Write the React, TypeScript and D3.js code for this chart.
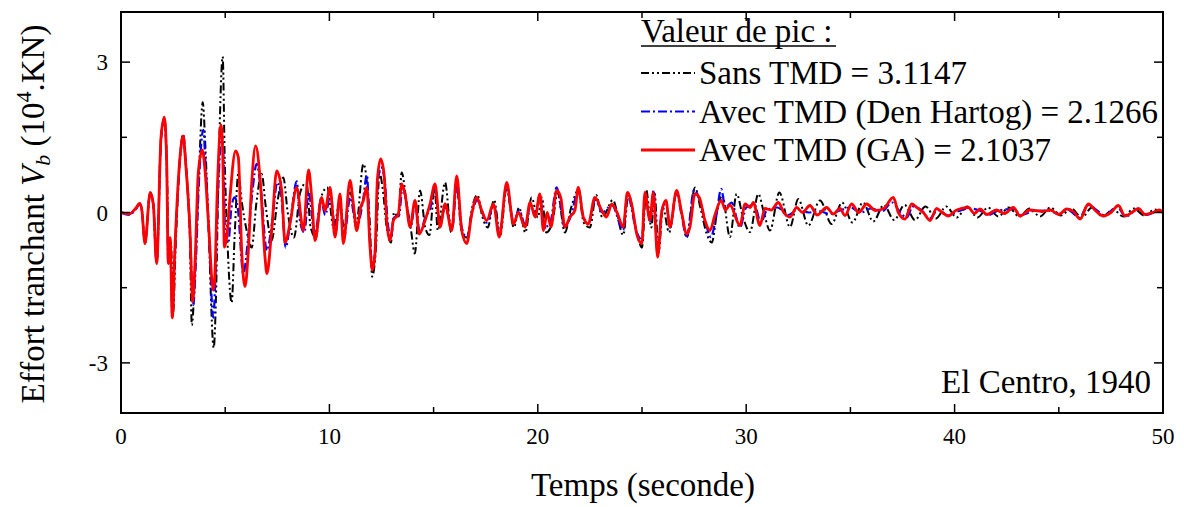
import React from 'react';
import * as d3 from 'd3';

// Temps (s), effort tranchant (10^4 kN) — extrema
const sansTmd: [number, number][] = [
  [0, 0], [0.4, -0.03], [0.7, 0.08], [0.9, 0.18], [1.0, 0.05], [1.15, -0.62], [1.4, 0.4], [1.55, 0.17],
  [1.71, -1.02], [1.92, 1.5], [2.08, 1.85], [2.2, 1.0], [2.28, -1.0], [2.4, -0.6], [2.5, -2.0], [2.62, -0.7],
  [2.85, 1.2], [2.97, 1.55], [3.1, 1.0], [3.3, -0.4], [3.4, -2.25], [3.55, -1.2], [3.75, 0.9], [3.92, 2.2],
  [4.05, 1.3], [4.2, -0.3], [4.45, -2.7], [4.55, -1.8], [4.68, 0.8], [4.88, 3.11], [4.98, 1.0], [5.1, -0.5],
  [5.31, -1.8], [5.45, -0.5], [5.63, 0.77], [5.8, 0.2], [6.0, -0.3], [6.27, -0.7], [6.5, 0.2], [6.75, 0.77],
  [6.95, 0.1], [7.23, -0.56], [7.5, 0.2], [7.79, 0.7], [8.0, 0.0], [8.3, -0.5], [8.6, 0.4], [8.9, 0.6],
  [9.1, -0.3], [9.35, -0.5], [9.6, 0.3], [9.9, 0.5], [10.2, -0.3], [10.5, 0.2], [10.7, -0.3], [11.0, 0.4],
  [11.3, -0.2], [11.63, 0.97], [11.8, 0.6], [11.95, -0.3], [12.05, -1.28], [12.25, -0.6], [12.4, 0.8], [12.55, 0.5],
  [12.75, -0.3], [12.95, -0.6], [13.1, 0.0], [13.3, -0.1], [13.47, 0.8], [13.7, 0.2], [13.9, -0.3], [14.1, -0.82],
  [14.35, 0.44], [14.6, -0.3], [14.8, -0.45], [15.05, 0.5], [15.2, -0.36], [15.55, 0.6], [15.85, -0.4], [16.1, 0.55],
  [16.35, -0.4], [16.6, -0.5], [16.85, 0.1], [17.1, 0.35], [17.35, -0.1], [17.6, -0.3], [17.9, 0.25], [18.2, -0.45],
  [18.5, 0.5], [18.85, -0.3], [19.1, 0.1], [19.4, -0.4], [19.7, 0.3], [20.0, -0.1], [20.2, 0.3], [20.4, -0.4],
  [20.7, -0.2], [20.95, 0.4], [21.3, -0.4], [21.6, 0.1], [21.95, 0.45], [22.2, -0.2], [22.5, -0.3], [22.8, 0.35],
  [23.1, -0.1], [23.6, 0.25], [24.1, -0.45], [24.35, 0.35], [24.8, -0.5], [25.0, -0.7], [25.2, 0.45], [25.45, -0.3],
  [25.6, 0.4], [25.8, -0.8], [26.0, 0.1], [26.3, -0.4], [26.65, 0.4], [26.95, -0.1], [27.15, -0.5], [27.54, 0.5],
  [27.8, 0.1], [28.1, -0.42], [28.35, -0.6], [28.6, 0.0], [28.85, 0.35], [29.22, -0.49], [29.54, 0.37], [29.85, -0.1],
  [30.18, -0.39], [30.58, 0.37], [30.85, 0.0], [31.14, -0.36], [31.59, 0.4], [32.1, -0.29], [32.5, 0.27], [32.98, -0.26],
  [33.54, 0.24], [34.1, -0.23], [34.6, 0.2], [35.1, -0.2], [35.6, 0.2], [36.1, -0.18], [36.6, 0.15], [37.1, -0.15],
  [37.6, 0.15], [38.1, -0.15], [38.6, 0.12], [39.1, -0.12], [39.6, 0.12], [40.1, -0.1], [40.6, 0.12], [41.1, -0.1],
  [41.6, 0.1], [42.1, -0.08], [42.6, 0.1], [43.1, -0.08], [43.6, 0.08], [44.1, -0.08], [44.6, 0.1], [45.1, -0.06],
  [45.6, 0.08], [46.1, -0.1], [46.6, 0.1], [47.1, -0.08], [47.6, 0.06], [48.1, -0.08], [48.6, 0.08], [49.1, -0.06],
  [49.6, 0.06], [50, 0.0],
];

const denHartog: [number, number][] = [
  [0, 0], [0.4, -0.05], [0.7, 0.06], [0.9, 0.16], [1.0, 0.04], [1.15, -0.6], [1.4, 0.38], [1.55, 0.15],
  [1.71, -1.0], [1.92, 1.45], [2.08, 1.85], [2.19, 1.0], [2.27, -1.0], [2.36, -0.55], [2.46, -2.05], [2.59, -0.75],
  [2.83, 1.05], [2.99, 1.55], [3.1, 1.05], [3.31, -0.4], [3.47, -1.85], [3.58, -1.1], [3.75, 0.7], [3.95, 1.65],
  [4.05, 1.0], [4.2, -0.2], [4.43, -2.1], [4.52, -1.4], [4.65, 0.3], [4.83, 1.55], [4.92, 1.1], [5.0, -0.5],
  [5.15, -0.6], [5.3, 0.1], [5.45, 0.3], [5.6, 0.1], [5.87, -1.22], [6.1, -0.5], [6.3, 0.4], [6.51, 0.97],
  [6.7, 0.5], [7.0, -0.76], [7.25, -0.2], [7.5, 0.6], [7.7, 0.3], [7.9, -0.7], [8.15, -0.1], [8.43, 0.62],
  [8.6, -0.2], [8.8, -0.4], [9.0, 0.4], [9.3, -0.45], [9.6, 0.25], [9.8, -0.05], [10.05, 0.35], [10.3, -0.4],
  [10.5, 0.25], [10.7, -0.5], [11.0, 0.3], [11.3, -0.3], [11.6, 0.2], [11.8, 0.75], [11.95, -0.6], [12.08, -1.05],
  [12.2, -0.7], [12.32, 0.6], [12.48, 0.9], [12.65, 0.65], [12.8, -0.2], [12.95, -0.5], [13.1, -0.1], [13.35, -0.05],
  [13.5, 0.5], [13.65, 0.3], [13.9, -0.3], [14.1, 0.15], [14.35, -0.4], [14.6, -0.1], [14.85, 0.1], [15.07, 0.5],
  [15.3, -0.25], [15.55, 0.1], [15.9, -0.3], [16.12, 0.6], [16.35, -0.3], [16.6, -0.5], [16.85, 0.0], [17.1, 0.25],
  [17.3, 0.05], [17.55, -0.2], [17.9, 0.15], [18.15, -0.45], [18.5, 0.5], [18.85, -0.2], [19.1, 0.05], [19.4, -0.25],
  [19.65, 0.15], [19.9, -0.05], [20.1, 0.35], [20.3, -0.3], [20.6, -0.2], [20.9, 0.5], [21.3, -0.3], [21.6, -0.05],
  [21.95, 0.45], [22.2, -0.1], [22.45, -0.2], [22.75, 0.25], [23.1, 0.0], [23.55, 0.15], [24.1, -0.35], [24.3, 0.35],
  [24.75, -0.4], [25.0, -0.55], [25.15, 0.35], [25.4, -0.2], [25.55, 0.45], [25.75, -0.8], [25.95, 0.05], [26.15, 0.2],
  [26.35, -0.3], [26.65, 0.4], [26.9, -0.05], [27.14, -0.5], [27.5, 0.45], [27.8, 0.2], [28.05, -0.2], [28.3, -0.49],
  [28.55, -0.1], [28.8, 0.47], [29.0, 0.1], [29.3, 0.2], [29.7, -0.3], [30.0, 0.1], [30.4, 0.15], [30.7, -0.2],
  [31.0, 0.05], [31.5, 0.1], [32.0, -0.05], [32.5, 0.06], [33.0, 0.0], [33.5, 0.03], [34.0, -0.03], [34.5, 0.04],
  [35.0, 0.1], [35.5, 0.0], [36.0, 0.08], [36.5, 0.02], [37.0, 0.2], [37.4, 0.0], [37.7, -0.1], [38.0, 0.12],
  [38.4, 0.05], [38.8, -0.12], [39.2, 0.05], [39.7, -0.06], [40.2, 0.03], [40.7, 0.08], [41.2, 0.04], [41.6, -0.05],
  [42.1, 0.04], [42.8, 0.07], [43.2, -0.05], [43.8, 0.03], [44.5, 0.04], [45.0, -0.03], [45.4, 0.06], [46.0, -0.1],
  [46.4, 0.15], [46.9, 0.02], [47.2, -0.06], [47.8, 0.12], [48.2, -0.08], [48.8, 0.07], [49.2, -0.05], [49.8, 0.03],
  [50, 0],
];

const gaTmd: [number, number][] = [
  [0, 0], [0.4, -0.03], [0.7, 0.08], [0.9, 0.18], [1.0, 0.05], [1.15, -0.62], [1.4, 0.4], [1.55, 0.17],
  [1.71, -1.02], [1.92, 1.5], [2.08, 1.9], [2.19, 1.03], [2.27, -1.02], [2.36, -0.5], [2.46, -2.1], [2.59, -0.69],
  [2.83, 1.1], [2.99, 1.53], [3.1, 1.0], [3.31, -0.36], [3.44, -1.78], [3.55, -1.02], [3.71, 0.8], [3.9, 1.25],
  [4.03, 0.85], [4.19, -0.16], [4.43, -1.55], [4.5, -1.3], [4.62, 0.44], [4.8, 1.75], [4.88, 1.2], [4.96, -0.69],
  [5.1, -0.4], [5.23, 0.3], [5.5, 1.23], [5.63, 1.1], [5.79, -0.76], [5.95, -1.48], [6.11, -0.76], [6.27, 0.57],
  [6.46, 1.33], [6.67, 0.7], [6.91, -0.89], [7.0, -1.22], [7.23, -0.36], [7.47, 0.83], [7.71, 0.44], [7.87, -0.6],
  [8.11, -0.22], [8.43, 0.5], [8.75, -0.36], [9.0, 0.85], [9.15, 0.3], [9.31, -0.56], [9.63, 0.3], [9.79, 0.04],
  [10.03, 0.5], [10.27, -0.49], [10.51, 0.37], [10.67, -0.62], [10.99, 0.64], [11.15, 0.17], [11.31, -0.36], [11.5, 0.1],
  [11.63, 0.24], [11.79, 0.5], [11.95, -0.69], [12.06, -1.15], [12.19, -0.8], [12.3, 0.64], [12.46, 1.07], [12.62, 0.77],
  [12.75, -0.16], [12.91, -0.56], [13.07, -0.16], [13.31, -0.03], [13.47, 0.57], [13.63, 0.37], [13.87, -0.29], [14.11, 0.24],
  [14.31, -0.43], [14.59, -0.16], [14.83, 0.17], [15.07, 0.57], [15.31, -0.29], [15.55, 0.17], [15.87, -0.36], [16.11, 0.73],
  [16.35, -0.36], [16.59, -0.62], [16.83, -0.03], [17.07, 0.3], [17.31, 0.04], [17.55, -0.16], [17.87, 0.17], [18.15, -0.49],
  [18.51, 0.6], [18.83, -0.23], [19.07, 0.0], [19.39, -0.29], [19.63, 0.2], [19.87, -0.09], [20.1, 0.37], [20.27, -0.36],
  [20.45, 0.0], [20.63, -0.29], [20.9, 0.44], [21.1, 0.3], [21.3, -0.29], [21.54, -0.09], [21.78, 0.04], [21.94, 0.5],
  [22.18, -0.09], [22.42, -0.23], [22.74, 0.3], [23.07, 0.04], [23.3, -0.09], [23.55, 0.17], [23.8, 0.0], [24.1, -0.29],
  [24.3, 0.4], [24.5, 0.17], [24.75, -0.43], [24.99, -0.62], [25.14, 0.4], [25.38, -0.16], [25.54, 0.4], [25.75, -0.89],
  [25.94, 0.0], [26.15, 0.24], [26.34, -0.29], [26.66, 0.44], [26.9, 0.0], [27.14, -0.43], [27.3, -0.29], [27.54, 0.37],
  [27.75, 0.3], [28.02, -0.16], [28.26, -0.36], [28.5, -0.05], [28.8, 0.24], [29.0, 0.05], [29.22, 0.15], [29.7, -0.26],
  [29.95, 0.17], [30.2, 0.1], [30.34, 0.2], [30.66, -0.26], [30.9, 0.08], [31.2, 0.05], [31.54, 0.2], [31.8, 0.0],
  [32.1, -0.09], [32.42, 0.1], [32.7, 0.0], [33.06, 0.14], [33.4, -0.05], [33.86, 0.1], [34.18, -0.03], [34.5, 0.08],
  [34.74, -0.06], [35.06, 0.17], [35.4, 0.0], [35.78, 0.17], [36.2, 0.04], [36.6, 0.08], [37.06, 0.3], [37.3, 0.0],
  [37.62, -0.13], [37.94, 0.17], [38.18, 0.1], [38.5, 0.0], [38.82, -0.16], [39.14, 0.08], [39.4, 0.0], [39.7, -0.07],
  [40.1, 0.05], [40.66, 0.1], [40.95, -0.02], [41.22, 0.07], [41.55, -0.04], [42.0, 0.05], [42.4, -0.02], [42.82, 0.1],
  [43.14, -0.07], [43.6, 0.05], [44.2, 0.02], [44.6, 0.05], [45.0, -0.04], [45.38, 0.07], [45.7, 0.02], [46.02, -0.13],
  [46.42, 0.17], [46.8, 0.02], [47.14, -0.07], [47.5, 0.0], [47.86, 0.14], [48.18, -0.07], [48.5, 0.0], [48.82, 0.08],
  [49.14, -0.04], [49.5, 0.0], [49.82, 0.05], [50, 0.0],
];

const xTicks = [0, 10, 20, 30, 40, 50];
const xMinorTicks = [5, 15, 25, 35, 45];
const yTicks = [-3, 0, 3];
const yMinorTicks = [-1.5, 1.5];
const legendLabels = ['Sans TMD = 3.1147', 'Avec TMD (Den Hartog) = 2.1266', 'Avec TMD (GA) = 2.1037'];

const W = 1184;
const H = 507;
const left = 121, right = 1163, top = 12, bottom = 413;
const serif = { fontFamily: "'Liberation Serif', 'Times New Roman', serif" };

const series = [
  { data: sansTmd, color: '#000000', dash: '8,3,2,3,2,3', width: 2 },
  { data: denHartog, color: '#0000ff', dash: '9,3,2,3', width: 2.2 },
  { data: gaTmd, color: '#ff0000', dash: null, width: 2.8 },
];

export default function App() {
  const x = d3.scaleLinear().domain([0, 50]).range([left, right]);
  const y = d3.scaleLinear().domain([-4, 4]).range([bottom, top]);
  const line = d3.line<[number, number]>()
    .x(d => x(d[0]))
    .y(d => y(d[1]))
    .curve(d3.curveMonotoneX);

  return (
    <svg width={W} height={H} style={{ position: 'absolute', left: 0, top: 0, background: '#fff', ...serif }}>
      <defs>
        <clipPath id="plot">
          <rect x={left} y={top} width={right - left} height={bottom - top} />
        </clipPath>
      </defs>

      <g clipPath="url(#plot)">
        {series.map((s, i) => (
          <path key={i} d={line(s.data) || ''} fill="none" stroke={s.color} strokeWidth={s.width}
            strokeDasharray={s.dash || undefined} strokeLinejoin="round" />
        ))}
      </g>

      {/* frame + inward ticks */}
      <rect x={left} y={top} width={right - left} height={bottom - top} fill="none" stroke="#000" strokeWidth={2} />
      {xTicks.map(t => (
        <g key={'x' + t}>
          <line x1={x(t)} x2={x(t)} y1={bottom} y2={bottom - 9} stroke="#000" strokeWidth={1.5} />
          <line x1={x(t)} x2={x(t)} y1={top} y2={top + 9} stroke="#000" strokeWidth={1.5} />
          <text x={x(t)} y={444} textAnchor="middle" fontSize={23} style={serif}>{t}</text>
        </g>
      ))}
      {xMinorTicks.map(t => (
        <g key={'xm' + t}>
          <line x1={x(t)} x2={x(t)} y1={bottom} y2={bottom - 6} stroke="#000" strokeWidth={1.5} />
          <line x1={x(t)} x2={x(t)} y1={top} y2={top + 6} stroke="#000" strokeWidth={1.5} />
        </g>
      ))}
      {yTicks.map(t => (
        <g key={'y' + t}>
          <line x1={left} x2={left + 9} y1={y(t)} y2={y(t)} stroke="#000" strokeWidth={1.5} />
          <line x1={right} x2={right - 9} y1={y(t)} y2={y(t)} stroke="#000" strokeWidth={1.5} />
          <text x={108} y={y(t) + 8} textAnchor="end" fontSize={23} style={serif}>{t}</text>
        </g>
      ))}
      {yMinorTicks.map(t => (
        <g key={'ym' + t}>
          <line x1={left} x2={left + 6} y1={y(t)} y2={y(t)} stroke="#000" strokeWidth={1.5} />
          <line x1={right} x2={right - 6} y1={y(t)} y2={y(t)} stroke="#000" strokeWidth={1.5} />
        </g>
      ))}

      {/* axis titles */}
      <text x={643} y={496} textAnchor="middle" fontSize={33} style={serif}>Temps (seconde)</text>
      <text transform={`translate(44, 214) rotate(-90)`} textAnchor="middle" fontSize={33} style={serif}>
        Effort tranchant <tspan fontStyle="italic">V</tspan>
        <tspan fontStyle="italic" fontSize={22} dy={6}>b</tspan>
        <tspan dy={-6}> (10</tspan>
        <tspan fontSize={22} dy={-13}>4</tspan>
        <tspan dy={13}>.KN)</tspan>
      </text>

      {/* legend */}
      <text x={641} y={42} fontSize={33} style={serif}>Valeur de pic :</text>
      <line x1={641} x2={836} y1={46} y2={46} stroke="#000" strokeWidth={1.5} />
      {legendLabels.map((lab, i) => {
        const ly = 73 + i * 38.5;
        const s = series[i];
        return (
          <g key={lab}>
            <line x1={641} x2={695} y1={ly} y2={ly} stroke={s.color} strokeWidth={s.width}
              strokeDasharray={s.dash || undefined} />
            <text x={699} y={ly + 11} fontSize={33} style={serif}>{lab}</text>
          </g>
        );
      })}

      <text x={1151} y={393} textAnchor="end" fontSize={33} style={serif}>El Centro, 1940</text>
    </svg>
  );
}
